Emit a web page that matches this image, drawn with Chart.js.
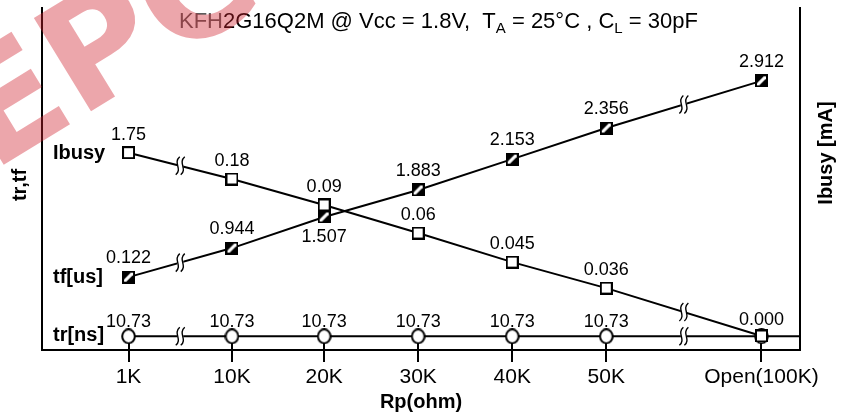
<!DOCTYPE html>
<html>
<head>
<meta charset="utf-8">
<script src="https://cdn.jsdelivr.net/npm/chart.js@4"></script>
<style>
  html, body { margin: 0; padding: 0; background: #fff; }
  #wrap { width: 846px; height: 416px; position: relative; }
</style>
</head>
<body>
<div id="wrap"><canvas id="chartContainer" width="846" height="416"></canvas></div>
<script>
// x axis: pull-up resistor settings
let rpLabels = ['1K', '10K', '20K', '30K', '40K', '50K', 'Open(100K)'];
// where each setting sits on the broken x axis (axis units, not ohms)
let rpSlots = [0.92, 2.02, 3, 4, 5, 6, 7.65];

// printed values
let ibusyValues = [1.75, 0.18, 0.09, 0.06, 0.045, 0.036, 0];
let tfValues = [0.122, 0.944, 1.507, 1.883, 2.153, 2.356, 2.912];
let trValues = [10.73, 10.73, 10.73, 10.73, 10.73, 10.73, null];

// the original is a sketch: curves sit at these heights, not at the printed values
let ibusyLevels = [5.77, 5.0, 4.24, 3.42, 2.57, 1.81, 0.41];
let tfLevels = [2.13, 2.98, 3.89, 4.68, 5.58, 6.49, 7.87];
let trLevels = [0.4, 0.4, 0.4, 0.4, 0.4, 0.4, 0.4];

const FONT = "'Liberation Sans', Arial, sans-serif";

// marker images
function makeMarker(kind) {
  let c = document.createElement('canvas');
  let ctx = c.getContext('2d');
  if (kind === 'circle') {
    c.width = 15; c.height = 16;
    ctx.beginPath();
    ctx.ellipse(7.5, 8, 6.3, 7, 0, 0, Math.PI * 2);
    ctx.fillStyle = '#fff';
    ctx.fill();
    ctx.lineWidth = 2;
    ctx.strokeStyle = '#000';
    ctx.stroke();
    return c;
  }
  c.width = 13; c.height = 13;
  ctx.fillStyle = kind === 'hatch' ? '#000' : '#fff';
  ctx.fillRect(1, 1, 11, 11);
  if (kind === 'hatch') {
    ctx.save();
    ctx.beginPath();
    ctx.rect(2, 2, 9, 9);
    ctx.clip();
    ctx.strokeStyle = '#fff';
    ctx.lineWidth = 3.2;
    ctx.beginPath();
    ctx.moveTo(1, 12);
    ctx.lineTo(12, 1);
    ctx.stroke();
    ctx.restore();
  }
  ctx.lineWidth = 2;
  ctx.strokeStyle = '#000';
  ctx.strokeRect(1, 1, 11, 11);
  return c;
}

let openSquare = makeMarker('open');
let hatchSquare = makeMarker('hatch');
let openCircle = makeMarker('circle');

function points(levels) {
  return rpSlots.map((x, i) => ({ x: x, y: levels[i] }));
}

function fmt(v) {
  return v === 0 ? '0.000' : String(v);
}

// ≀≀ break marks between 1K-10K and 50K-Open
function breakMark(ctx, x, y) {
  ctx.save();
  ctx.fillStyle = '#fff';
  ctx.fillRect(x - 3, y - 4, 6, 8);
  ctx.strokeStyle = '#000';
  ctx.lineWidth = 1.4;
  for (let dx of [-2.5, 2.5]) {
    ctx.beginPath();
    ctx.moveTo(x + dx + 2, y - 9);
    ctx.bezierCurveTo(x + dx - 5, y - 3, x + dx + 5, y + 3, x + dx - 2, y + 9);
    ctx.stroke();
  }
  ctx.restore();
}

let sketchPlugin = {
  id: 'sketch',
  beforeDatasetsDraw(chart) {
    let ctx = chart.ctx;
    let xs = chart.scales.x, ys = chart.scales.y;
    // ticks run up to the tr line
    ctx.save();
    ctx.strokeStyle = '#000';
    ctx.lineWidth = 2;
    rpSlots.forEach((v, i) => {
      let px = Math.round(xs.getPixelForValue(v));
      ctx.beginPath();
      ctx.moveTo(px, ys.getPixelForValue(trLevels[i]));
      ctx.lineTo(px, chart.chartArea.bottom);
      ctx.stroke();
    });
    // tr line carries on to the right axis
    let last = trLevels.length - 1;
    ctx.beginPath();
    ctx.moveTo(xs.getPixelForValue(rpSlots[last]), ys.getPixelForValue(trLevels[last]));
    ctx.lineTo(chart.chartArea.right, ys.getPixelForValue(trLevels[last]));
    ctx.stroke();
    ctx.restore();
  },
  afterDatasetsDraw(chart) {
    let ctx = chart.ctx;
    let xs = chart.scales.x, ys = chart.scales.y;

    // break marks
    [[0, 1], [5, 6]].forEach(([a, b]) => {
      let mx = (rpSlots[a] + rpSlots[b]) / 2;
      [ibusyLevels, tfLevels, trLevels].forEach(lv => {
        let my = (lv[a] + lv[b]) / 2;
        breakMark(ctx, xs.getPixelForValue(mx), ys.getPixelForValue(my));
      });
    });

    // value labels
    ctx.save();
    ctx.fillStyle = '#000';
    ctx.textAlign = 'center';
    ctx.textBaseline = 'middle';
    ctx.font = '18px ' + FONT;
    rpSlots.forEach((v, i) => {
      let px = xs.getPixelForValue(v);
      ctx.fillText(fmt(ibusyValues[i]), px, ys.getPixelForValue(ibusyLevels[i]) - (i === 6 ? 16 : 18));
      let off = i === 2 ? 20 : -19;
      ctx.fillText(fmt(tfValues[i]), px, ys.getPixelForValue(tfLevels[i]) + off);
      if (trValues[i] !== null) {
        ctx.fillText(fmt(trValues[i]), px, ys.getPixelForValue(trLevels[i]) - 14);
      }
    });

    // series names
    ctx.font = 'bold 20px ' + FONT;
    ctx.textAlign = 'left';
    let nameX = chart.chartArea.left + 11;
    ctx.fillText('Ibusy', nameX, ys.getPixelForValue(ibusyLevels[0]) + 1);
    ctx.fillText('tf[us]', nameX, ys.getPixelForValue(tfLevels[0]));
    ctx.fillText('tr[ns]', nameX, ys.getPixelForValue(trLevels[0]) - 1);
    ctx.restore();
  },
  afterDraw(chart) {
    let ctx = chart.ctx;
    ctx.save();
    // axis titles, both reading bottom to top
    ctx.fillStyle = '#000';
    ctx.font = 'bold 20px ' + FONT;
    ctx.textAlign = 'center';
    ctx.textBaseline = 'middle';
    ctx.translate(20, 185);
    ctx.rotate(-Math.PI / 2);
    ctx.fillText('tr,tf', 0, 0);
    ctx.setTransform(1, 0, 0, 1, 0, 0);
    ctx.translate(826, 153);
    ctx.rotate(-Math.PI / 2);
    ctx.fillText('Ibusy [mA]', 0, 0);
    ctx.setTransform(1, 0, 0, 1, 0, 0);

    // title with subscripts
    let parts = [
      { t: 'KFH', c: '#5c5c5c' },
      { t: '2G16Q2M @ Vcc = 1.8V,  T' },
      { t: 'A', sub: true },
      { t: ' = 25\u00B0C , C' },
      { t: 'L', sub: true },
      { t: ' = 30pF' }
    ];
    let x = 179;
    ctx.textAlign = 'left';
    ctx.textBaseline = 'alphabetic';
    parts.forEach(p => {
      ctx.font = (p.sub ? '15px ' : '22px ') + FONT;
      ctx.fillStyle = p.c || '#000';
      ctx.fillText(p.t, x, p.sub ? 33 : 28);
      x += ctx.measureText(p.t).width;
    });

    // faded stamp in the corner
    ctx.translate(-8, 172);
    ctx.rotate(-0.55);
    ctx.font = "bold 150px 'DejaVu Sans', sans-serif";
    ctx.fillStyle = 'rgba(207, 32, 45, 0.4)';
    ctx.fillText('EPC', 0, 0);
    ctx.restore();
  }
};

let chart = new Chart(document.getElementById('chartContainer'), {
  type: 'scatter',
  data: {
    datasets: [
      {
        label: 'Ibusy',
        data: points(ibusyLevels),
        showLine: true,
        borderColor: '#000',
        borderWidth: 2,
        pointStyle: openSquare,
        pointRadius: 6
      },
      {
        label: 'tf[us]',
        data: points(tfLevels),
        showLine: true,
        borderColor: '#000',
        borderWidth: 2,
        pointStyle: hatchSquare,
        pointRadius: 6
      },
      {
        label: 'tr[ns]',
        data: points(trLevels),
        showLine: true,
        borderColor: '#000',
        borderWidth: 2,
        pointStyle: openCircle,
        pointRadius: 6
      }
    ]
  },
  options: {
    responsive: false,
    animation: false,
    devicePixelRatio: 1,
    layout: { padding: { left: 42, right: 46, top: 8, bottom: 0 } },
    plugins: {
      legend: { display: false },
      tooltip: { enabled: false }
    },
    scales: {
      x: {
        type: 'linear',
        min: 0,
        max: 8.06,
        afterBuildTicks: scale => { scale.ticks = rpSlots.map(v => ({ value: v })); },
        afterFit: scale => { scale.height = 66; },
        ticks: {
          autoSkip: false,
          maxRotation: 0,
          padding: 3,
          color: '#000',
          font: { family: FONT, size: 21 },
          callback: (value, index) => rpLabels[index]
        },
        grid: { drawOnChartArea: false, tickLength: 12, lineWidth: 2, color: '#000' },
        border: { color: '#000', width: 2 },
        title: {
          display: true,
          text: 'Rp(ohm)',
          color: '#000',
          font: { family: FONT, size: 20, weight: 'bold' },
          padding: { top: 0, bottom: 2 }
        }
      },
      y: {
        position: 'left',
        min: 0,
        max: 10,
        afterFit: scale => { scale.width = 0; },
        ticks: { display: false },
        grid: { display: false },
        border: { color: '#000', width: 2 }
      },
      y2: {
        position: 'right',
        min: 0,
        max: 10,
        afterFit: scale => { scale.width = 0; },
        ticks: { display: false },
        grid: { display: false },
        border: { color: '#000', width: 2 }
      }
    }
  },
  plugins: [sketchPlugin]
});
</script>
</body>
</html>
